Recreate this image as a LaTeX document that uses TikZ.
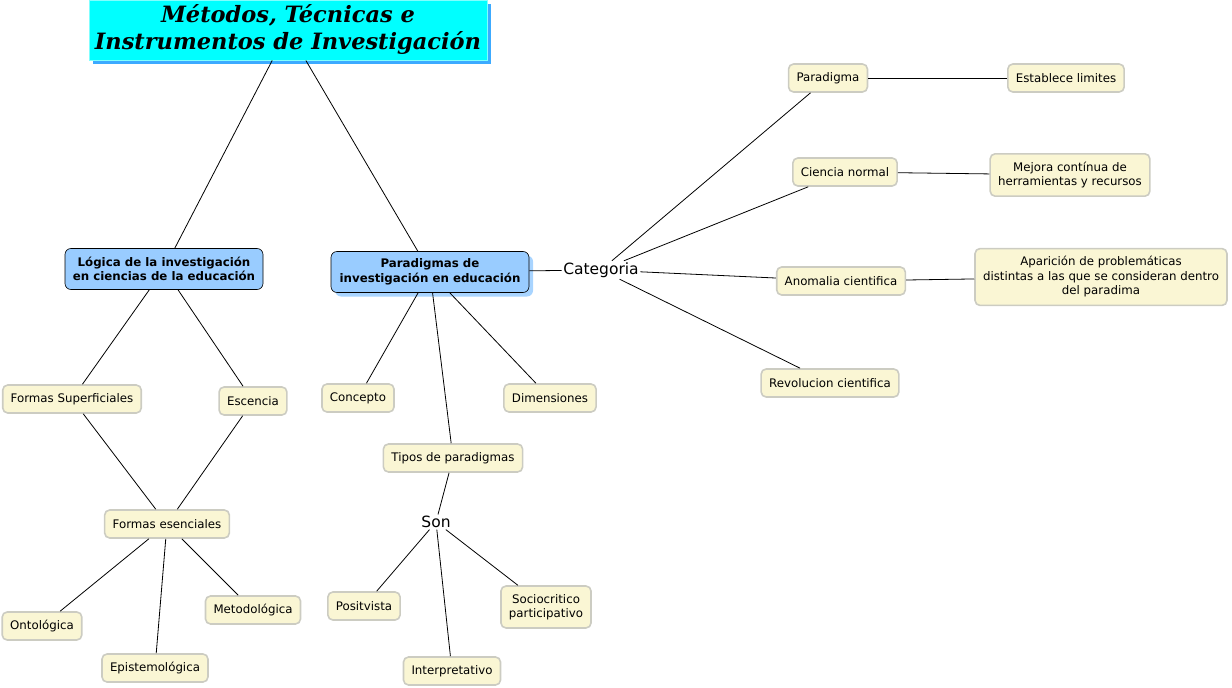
\documentclass[tikz,border=0pt]{standalone}
\usepackage{fontspec}
\setmainfont{DejaVu Sans}
\newfontfamily\titlefont{DejaVu Serif}
\usepackage{tikz}
\usetikzlibrary{positioning,shadows}
\definecolor{crema}{RGB}{250,246,212}
\definecolor{bordecrema}{RGB}{204,204,194}
\definecolor{azulnodo}{RGB}{153,204,255}
\definecolor{cian}{RGB}{0,255,255}
\definecolor{sombracian}{RGB}{60,170,255}
\tikzset{%
  every concept/.style={
    rectangle,
    rounded corners=5pt,
    draw=bordecrema,
    line width=1.6pt,
    fill=crema,
    font=\fontsize{11.8}{14.5}\selectfont,
    inner xsep=8pt,
    inner ysep=8pt,
    minimum height=28pt,
    align=center
  },
  main concept/.style={
    rectangle,
    rounded corners=6pt,
    draw=black,
    line width=0.6pt,
    fill=azulnodo,
    font=\bfseries\fontsize{11.8}{14.5}\selectfont,
    minimum width=198pt,
    minimum height=41pt,
    align=center
  },
  link phrase/.style={
    inner sep=1.5pt,
    font=\fontsize{15.5}{18}\selectfont
  },
}

\begin{document}
\begin{tikzpicture}[x=1pt, y=-1pt, link/.style={draw=black, line width=0.8pt}]
\useasboundingbox (0,0) rectangle (1232,688);

    % titulo
    \node[rectangle, fill=cian, draw=cian!50!white, line width=1pt, minimum width=398pt, minimum height=60pt, inner sep=2pt,
          drop shadow={shadow xshift=4pt, shadow yshift=-4pt, fill=sombracian, opacity=1},
          font=\titlefont\bfseries\itshape\fontsize{22.5}{27}\selectfont, align=center]
          (titulo) at (288,30) {Métodos, Técnicas e\\Instrumentos de Investigación};

    \node[main concept] (logica) at (164,269) {Lógica de la investigación\\en ciencias de la educación};
    \node[main concept, drop shadow={shadow xshift=4pt, shadow yshift=-4pt, fill=azulnodo!85!white, opacity=1}]
          (paradigmas) at (430,272) {Paradigmas de\\investigación en educación};

    % rama izquierda
    \node[every concept] (superficiales) at (72,399) {Formas Superficiales};
    \node[every concept] (escencia) at (253,401) {Escencia};
    \node[every concept] (esenciales) at (167,524) {Formas esenciales};
    \node[every concept] (ontologica) at (42,626) {Ontológica};
    \node[every concept] (epistemologica) at (155,668) {Epistemológica};
    \node[every concept] (metodologica) at (253,610) {Metodológica};

    % rama central
    \node[every concept] (concepto) at (358,398) {Concepto};
    \node[every concept] (dimensiones) at (550,398) {Dimensiones};
    \node[every concept] (tipos) at (453,458) {Tipos de paradigmas};
    \node[link phrase] (son) at (436,522) {Son};
    \node[every concept] (positivista) at (364,606) {Positvista};
    \node[every concept] (interpretativo) at (452,671) {Interpretativo};
    \node[every concept] (sociocritico) at (546,607) {Sociocritico\\participativo};

    % rama derecha
    \node[link phrase] (categoria) at (601,270) {Categoria};
    \node[every concept] (paradigma) at (828,78) {Paradigma};
    \node[every concept] (limites) at (1066,78) {Establece limites};
    \node[every concept] (ciencia) at (845,172) {Ciencia normal};
    \node[every concept] (mejora) at (1070,175) {Mejora contínua de\\herramientas y recursos};
    \node[every concept] (anomalia) at (841,281) {Anomalia cientifica};
    \node[every concept] (aparicion) at (1101,277) {Aparición de problemáticas\\distintas a las que se consideran dentro\\del paradima};
    \node[every concept] (revolucion) at (830,383) {Revolucion cientifica};

    \foreach \a/\b in {titulo/logica, titulo/paradigmas,
                       logica/superficiales, logica/escencia,
                       superficiales/esenciales, escencia/esenciales,
                       esenciales/ontologica, esenciales/epistemologica, esenciales/metodologica,
                       paradigmas/concepto, paradigmas/tipos, paradigmas/dimensiones,
                       tipos/son, son/positivista, son/interpretativo, son/sociocritico,
                       paradigmas/categoria, categoria/paradigma, categoria/ciencia,
                       categoria/anomalia, categoria/revolucion,
                       paradigma/limites, ciencia/mejora, anomalia/aparicion}
        \draw[link] (\a) -- (\b);
\end{tikzpicture}
\end{document}
